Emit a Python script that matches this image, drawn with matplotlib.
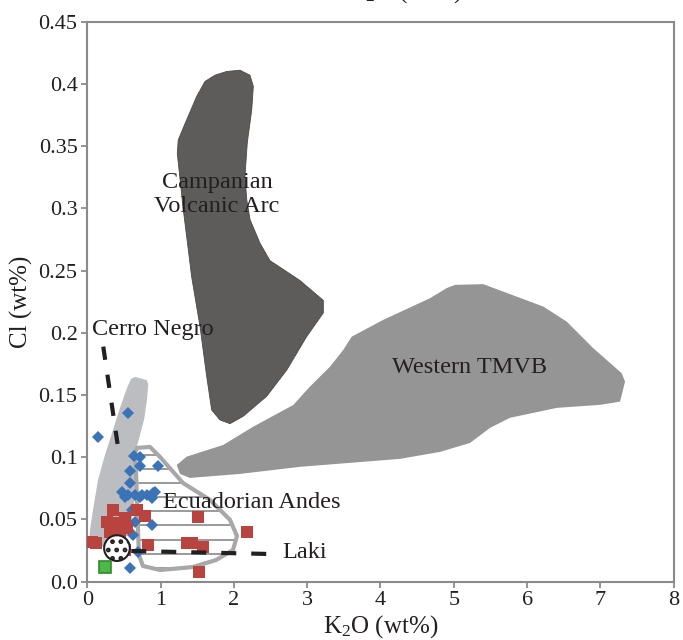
import numpy as np
import matplotlib
matplotlib.use("Agg")
import matplotlib.pyplot as plt
from matplotlib.patches import Polygon

plt.rcParams['font.family'] = ['Liberation Serif', 'DejaVu Serif']
plt.rcParams['mathtext.default'] = 'regular'

# ---------------- data ----------------
x_ticks = [0, 1, 2, 3, 4, 5, 6, 7, 8]
y_ticks = [0.0, 0.05, 0.1, 0.15, 0.2, 0.25, 0.3, 0.35, 0.4, 0.45]
y_tick_labels = ["0.0", "0.05", "0.1", "0.15", "0.2", "0.25", "0.3", "0.35", "0.4", "0.45"]

campanian_k2o = [1.742, 1.902, 2.083, 2.219, 2.265, 2.243, 2.183, 2.151, 2.175, 2.220, 2.356, 2.492,
                 2.902, 3.220, 3.220, 2.993, 2.720, 2.447, 2.128, 1.947, 1.810, 1.697, 1.629, 1.538,
                 1.424, 1.310, 1.228, 1.241, 1.333, 1.493, 1.606]
campanian_cl = [0.407, 0.410, 0.411, 0.407, 0.398, 0.379, 0.353, 0.326, 0.307, 0.291, 0.272, 0.258,
                0.242, 0.226, 0.216, 0.197, 0.170, 0.149, 0.133, 0.127, 0.130, 0.138, 0.165, 0.205,
                0.245, 0.299, 0.344, 0.355, 0.368, 0.390, 0.402]

tmvb_k2o = [1.220, 1.356, 1.855, 2.265, 2.810, 3.038, 3.311, 3.493, 3.607, 4.038, 4.675, 4.903,
            5.016, 5.402, 6.221, 6.540, 6.903, 7.291, 7.336, 7.268, 6.995, 6.408, 5.766, 5.494,
            5.221, 4.812, 4.266, 3.584, 2.902, 2.083, 1.401, 1.265]
tmvb_cl = [0.0938, 0.1005, 0.1099, 0.1246, 0.1420, 0.1568, 0.1728, 0.1863, 0.1969, 0.2104, 0.2278,
           0.2359, 0.2385, 0.2391, 0.2211, 0.2090, 0.1876, 0.1675, 0.1608, 0.1447, 0.1421, 0.1397,
           0.1317, 0.1236, 0.1115, 0.1043, 0.0987, 0.0955, 0.0923, 0.0866, 0.0834, 0.0866]

cerro_field_k2o = [0.651, 0.810, 0.832, 0.814, 0.774, 0.719, 0.664, 0.651, 0.637, 0.555, 0.378,
                   0.173, 0.023, 0.037, 0.078, 0.146, 0.241, 0.350, 0.446, 0.542, 0.596]
cerro_field_cl = [0.1646, 0.1620, 0.1589, 0.1461, 0.1300, 0.1179, 0.1059, 0.0817, 0.0576, 0.0375,
                  0.0295, 0.0279, 0.0287, 0.0416, 0.0576, 0.0817, 0.1018, 0.1219, 0.1396, 0.1557,
                  0.1629]

ecuador_k2o = [0.678, 0.855, 0.992, 1.306, 1.674, 1.947, 2.042, 1.988, 1.756, 1.442, 0.992, 0.760,
               0.705, 0.692, 0.678, 0.664, 0.651]
ecuador_cl = [0.1075, 0.1083, 0.1002, 0.0793, 0.0657, 0.0497, 0.0367, 0.0255, 0.0174, 0.0118,
              0.0094, 0.0126, 0.0214, 0.0416, 0.0657, 0.0898, 0.1035]

cerro_line_k2o = [0.218, 0.415]
cerro_line_cl = [0.1889, 0.1099]
laki_line_k2o = [0.60, 2.46]
laki_line_cl = [0.0247, 0.0223]

blue_k2o = [0.559, 0.142, 0.641, 0.719, 0.719, 0.960, 0.583, 0.583, 0.469, 0.559, 0.651, 0.719,
            0.810, 0.879, 0.924, 0.514, 0.900, 0.651, 0.879, 0.628, 0.696, 0.583, 0.606, 0.740]
blue_cl = [0.1354, 0.1166, 0.1010, 0.1000, 0.0930, 0.0930, 0.0892, 0.0796, 0.0723, 0.0697, 0.0697,
           0.0683, 0.0697, 0.0670, 0.0723, 0.0683, 0.0711, 0.0482, 0.0456, 0.0375, 0.0241, 0.0108,
           0.0576, 0.0700]

red_k2o = [0.355, 0.674, 0.787, 0.265, 0.514, 0.378, 0.310, 0.538, 0.060, 0.119, 0.514, 0.832,
           1.514, 2.175, 1.356, 1.424, 1.583, 1.528, 0.440, 0.420]
red_cl = [0.0576, 0.0576, 0.0531, 0.0482, 0.0510, 0.0429, 0.0402, 0.0429, 0.0322, 0.0309, 0.0255,
          0.0295, 0.0523, 0.0402, 0.0309, 0.0309, 0.0277, 0.0080, 0.0390, 0.0470]

laki_k2o = [0.405]
laki_cl = [0.027]
green_k2o = [0.243]
green_cl = [0.0118]

# ---------------- figure ----------------
TXT = '#231f20'
fig = plt.figure(figsize=(6.83, 6.40), dpi=100)
ax = fig.add_axes([0.1278, 0.0911, 0.8586, 0.875])
ax.set_xlim(0, 8)
ax.set_ylim(0, 0.45)

ax.add_patch(Polygon(np.column_stack([campanian_k2o, campanian_cl]), closed=True,
                     facecolor='#5e5c5b', edgecolor='#4a4848', lw=0.6, zorder=1))
ax.add_patch(Polygon(np.column_stack([tmvb_k2o, tmvb_cl]), closed=True,
                     facecolor='#959595', edgecolor='none', zorder=1))
ax.add_patch(Polygon(np.column_stack([cerro_field_k2o, cerro_field_cl]), closed=True,
                     facecolor='#bcbdc0', edgecolor='none', zorder=1.5))
ecu = Polygon(np.column_stack([ecuador_k2o, ecuador_cl]), closed=True,
              facecolor='white', edgecolor='none', zorder=2)
ax.add_patch(ecu)
for yy in np.arange(0.0113, 0.108, 0.0113):
    ln, = ax.plot([0.5, 2.2], [yy, yy], color='#9a9a9a', lw=1.4, zorder=2.1)
    ln.set_clip_path(ecu)
ax.add_patch(Polygon(np.column_stack([ecuador_k2o, ecuador_cl]), closed=True,
                     facecolor='none', edgecolor='#a8a8a8', lw=3.0, joinstyle='round', zorder=2.2))

ax.plot(blue_k2o, blue_cl, linestyle='none', marker='D', markersize=6.2,
        color='#3a73b8', markeredgewidth=0, zorder=3)
ax.plot(red_k2o, red_cl, linestyle='none', marker='s', markersize=8.3,
        color='#b8433f', markeredgewidth=0, zorder=4)

plt.rcParams['hatch.linewidth'] = 2.2
ax.scatter(laki_k2o, laki_cl, s=18.5**2, marker='o', facecolor='white', edgecolor='#231f20',
           linewidths=1.5, hatch='..', zorder=5)
ax.plot(green_k2o, green_cl, linestyle='none', marker='s', markersize=9.2,
        markerfacecolor='#4fb84a', markeredgecolor='#2f8a2f', markeredgewidth=1.2, zorder=5)

ax.plot(cerro_line_k2o, cerro_line_cl, color='#231f20', lw=3.0, dashes=(3.2, 3.6),
        dash_capstyle='butt', zorder=6)
ax.plot(laki_line_k2o, laki_line_cl, color='#231f20', lw=3.0, dashes=(3.6, 3.6),
        dash_capstyle='butt', zorder=6)

lab = dict(color=TXT, fontsize=17.5)
ax.text(1.772, 0.3109, "Campanian\nVolcanic Arc", ha='center', va='center', linespacing=1.2,
        zorder=7, **lab)
ax.text(5.22, 0.1718, "Western TMVB", ha='center', va='center', zorder=7, **lab)
ax.text(0.064, 0.2024, "Cerro Negro", ha='left', va='center', zorder=7, **lab)
ax.text(1.03, 0.0633, "Ecuadorian Andes", ha='left', va='center', zorder=7, **lab)
ax.text(2.655, 0.0231, "Laki", ha='left', va='center', zorder=7, **lab)

ax.set_xticks(x_ticks)
ax.set_xticklabels([str(v) for v in x_ticks])
ax.set_yticks(y_ticks)
ax.set_yticklabels(y_tick_labels)
ax.tick_params(direction='out', length=4, width=1.2, color='#808080', labelsize=16,
               labelcolor=TXT, pad=3)
for s in ax.spines.values():
    s.set_color('#8a8a8a')
    s.set_linewidth(1.5)

ax.set_xlabel("K$_2$O (wt%)", fontsize=18, color=TXT, labelpad=2)
ax.set_ylabel("Cl (wt%)", fontsize=18, color=TXT, labelpad=4)

# title clipped by the top edge of the image (as in the reference)
fig.text(462 / 683, 1.0 + 2 / 640, "K$_2$O (wt%)", ha='right', va='baseline',
         fontsize=18, color=TXT)

fig.savefig("out.png", dpi=100)
